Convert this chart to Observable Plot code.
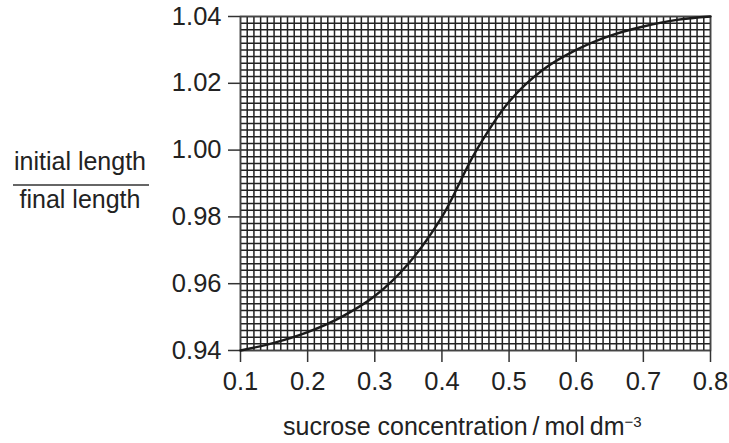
<!DOCTYPE html>
<html>
<head>
<meta charset="utf-8">
<script src="https://cdn.jsdelivr.net/npm/d3@7"></script>
<script src="https://cdn.jsdelivr.net/npm/@observablehq/plot@0.6"></script>
<style>
  html, body { margin: 0; padding: 0; background: #fff; }
</style>
</head>
<body>
<div id="chart"></div>
<script>
// Curve
const concentration = [0.10, 0.15, 0.20, 0.25, 0.30, 0.35, 0.40, 0.45, 0.50, 0.55, 0.60, 0.65, 0.70, 0.75, 0.80];
const ratio =         [0.9400, 0.9423, 0.9455, 0.9500, 0.9563, 0.9660, 0.9800, 0.9995, 1.0145, 1.0240, 1.0300, 1.0342, 1.0370, 1.0390, 1.0400];

// Axis ticks
const xTicks = [0.1, 0.2, 0.3, 0.4, 0.5, 0.6, 0.7, 0.8];
const yTicks = [0.94, 0.96, 0.98, 1.00, 1.02, 1.04];

// Graph-paper grid: every 0.01 on x, every 0.002 on y
const gridXs = d3.range(0, 71).map(i => +(0.1 + i * 0.01).toFixed(3));
const gridYs = d3.range(0, 51).map(i => +(0.94 + i * 0.002).toFixed(4));

const data = concentration.map((c, i) => ({c, r: ratio[i]}));

const W = 729, H = 443, ML = 240, MR = 19, MT = 16, MB = 93;

const chart = Plot.plot({
  width: W,
  height: H,
  marginLeft: ML,
  marginRight: MR,
  marginTop: MT,
  marginBottom: MB,
  style: {fontFamily: "'Liberation Sans', Arial, sans-serif", fontSize: "25.5px", color: "#222", background: "#fff"},
  x: {domain: [0.1, 0.8]},
  y: {domain: [0.94, 1.04]},
  marks: [
    Plot.gridX(gridXs, {stroke: "#222", strokeOpacity: 1, strokeWidth: 1.5}),
    Plot.gridY(gridYs, {stroke: "#222", strokeOpacity: 1, strokeWidth: 1.5}),
    Plot.frame({stroke: "#444", strokeWidth: 1.5}),
    Plot.axisX(xTicks, {tickSize: 12, tickPadding: 9, tickFormat: d => d.toFixed(1), label: null, stroke: "#333", strokeWidth: 1.5}),
    Plot.axisY(yTicks, {tickSize: 12, tickPadding: 7, tickFormat: d => d.toFixed(2), label: null, stroke: "#333", strokeWidth: 1.5}),
    Plot.line(data, {x: "c", y: "r", curve: "catmull-rom", stroke: "#1a1a1a", strokeWidth: 2.4})
  ]
});

const svg = d3.select(chart);
// x-axis title
const xt = svg.append("text")
  .attr("x", ML + 43)
  .attr("y", H - 8)
  .attr("text-anchor", "start")
  .attr("fill", "#222")
  .style("font-family", "'Liberation Sans', Arial, sans-serif")
  .style("font-size", "25px");
xt.append("tspan").text("sucrose concentration\u2009/\u2009mol\u2009dm");
xt.append("tspan").attr("dy", "-0.55em").style("font-size", "15px").text("\u22123");

// y-axis title as a fraction
const yg = svg.append("g")
  .attr("fill", "#222")
  .style("font-family", "'Liberation Sans', Arial, sans-serif")
  .style("font-size", "25px")
  .attr("text-anchor", "middle");
yg.append("text").attr("x", 80).attr("y", 170).text("initial length");
yg.append("line").attr("x1", 13).attr("x2", 149).attr("y1", 185).attr("y2", 185)
  .attr("stroke", "#333").attr("stroke-width", 1.5);
yg.append("text").attr("x", 80).attr("y", 208).text("final length");

document.getElementById("chart").appendChild(chart);
</script>
</body>
</html>
